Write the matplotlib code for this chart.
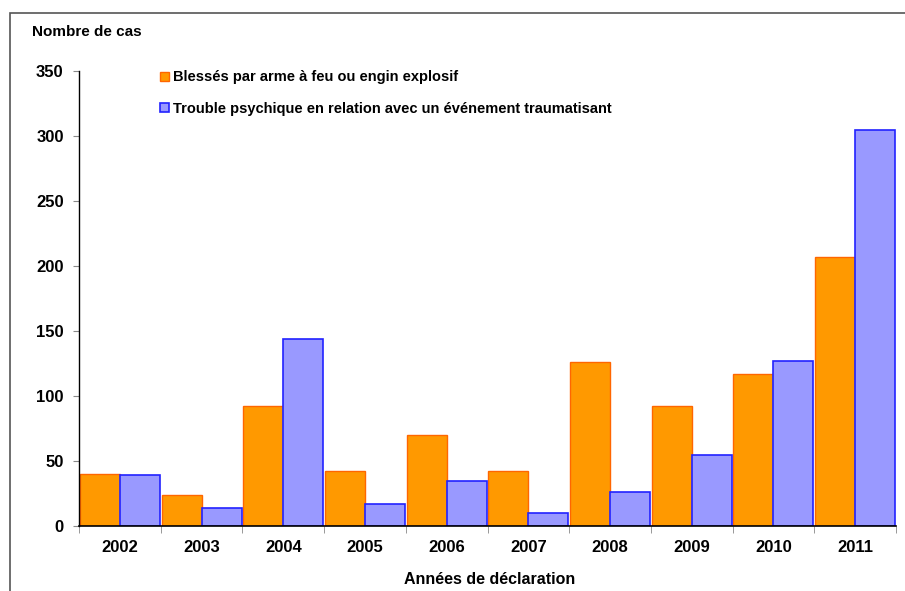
import matplotlib
matplotlib.use("Agg")
import matplotlib.pyplot as plt
import numpy as np
from matplotlib.patches import Rectangle

years = ["2002", "2003", "2004", "2005", "2006", "2007", "2008", "2009", "2010", "2011"]
blesses = [40, 24, 92, 42, 70, 42, 126, 92, 117, 207]
trouble = [39, 14, 144, 17, 35, 10, 26, 55, 127, 305]
series_names = ["Blessés par arme à feu ou engin explosif",
                "Trouble psychique en relation avec un événement traumatisant"]

plt.rcParams['font.family'] = ['Liberation Sans', 'DejaVu Sans']

fig = plt.figure(figsize=(9.05, 5.91), dpi=100)
fig.patch.set_facecolor('white')

# outer frame (cropped on right and bottom)
frame = Rectangle((10/905, -0.1), 1.2, 1 - 13/591 + 0.1, transform=fig.transFigure,
                  fill=False, edgecolor='#555555', linewidth=1.2, zorder=0)
fig.patches.append(frame)

ax = fig.add_axes([79/905, 1 - 526/591, (896 - 79)/905, (526 - 71)/591])
x = np.arange(len(years))
w = 0.49
ax.bar(x - w/2, blesses, width=w, color='#FF9900', edgecolor='#FF6600', linewidth=1.0,
       label=series_names[0])
ax.bar(x + w/2, trouble, width=w, color='#9999FF', edgecolor='#2222FF', linewidth=1.2,
       label=series_names[1])

ax.set_xlim(-0.5, 9.5)
ax.set_ylim(0, 350)
ax.set_yticks(np.arange(0, 351, 50))
ax.tick_params(axis='y', length=4, color='#888888', labelsize=12, pad=7)
for t in ax.get_yticklabels():
    t.set_fontweight('bold')

ax.set_xticks(x)
ax.set_xticklabels(years, fontweight='bold', fontsize=12)
ax.tick_params(axis='x', length=0, pad=10)
ax.set_xticks(np.arange(-0.5, 10.0, 1.0), minor=True)
ax.tick_params(axis='x', which='minor', length=5, color='#888888')

for s in ['top', 'right']:
    ax.spines[s].set_visible(False)
ax.spines['left'].set_color('black')
ax.spines['bottom'].set_color('black')
ax.spines['left'].set_linewidth(1.0)
ax.spines['bottom'].set_linewidth(1.2)

fig.text(32/905, 1 - 32/591, "Nombre de cas", fontsize=11, fontweight='bold',
         ha='left', va='center')
fig.text(490/905, 1 - 580/591, "Années de déclaration", fontsize=11.5, fontweight='bold',
         ha='center', va='center')

leg = ax.legend(loc='upper left', bbox_to_anchor=(0.0137 + 0.005 + 150/905 - 79/905 - 0.0137, 1.03),
                bbox_transform=ax.transAxes,
                frameon=False, fontsize=10.5, handlelength=0.6, handleheight=0.6,
                handletextpad=0.3, labelspacing=1.2)
for t in leg.get_texts():
    t.set_fontweight('bold')

fig.savefig("out.png", dpi=100, facecolor='white')
